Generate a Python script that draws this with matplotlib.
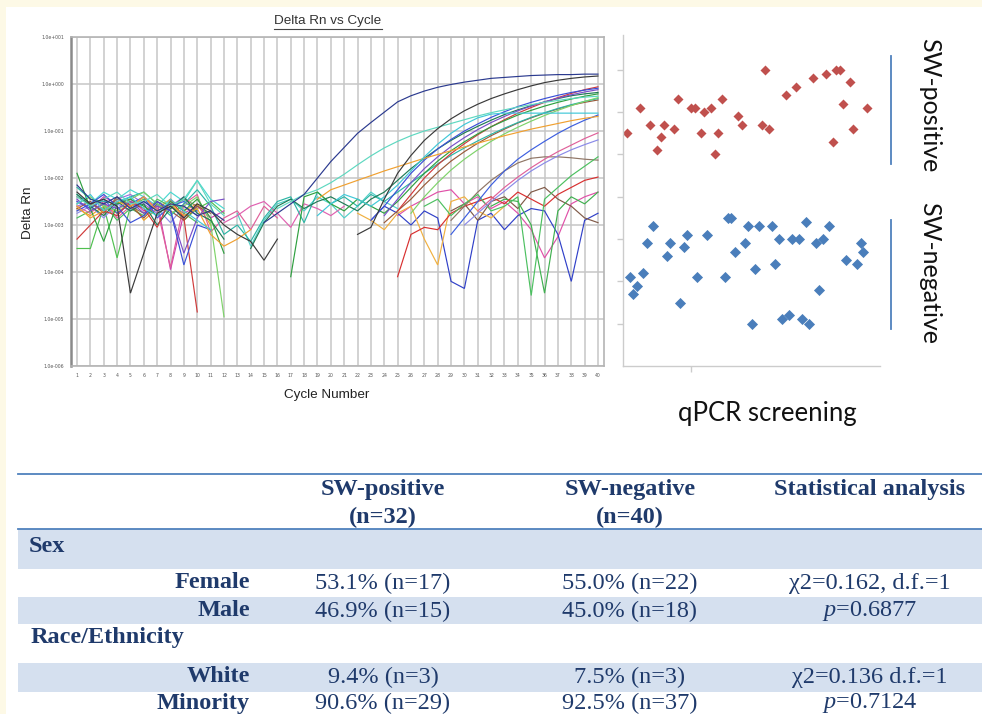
import numpy as np
import matplotlib
matplotlib.use("Agg")
import matplotlib.pyplot as plt
from matplotlib.patches import Rectangle
from matplotlib.lines import Line2D
from matplotlib.ticker import NullLocator

plt.rcParams["mathtext.fontset"] = "custom"
plt.rcParams["mathtext.rm"] = "Liberation Serif"
plt.rcParams["mathtext.it"] = "Liberation Serif:italic"

N = np.nan
cycles = list(range(1, 41))

# ---------------- qPCR curves: log10(Delta Rn) per cycle ----------------
navy = [-2.15,-2.45,-2.55,-2.40,-2.65,-2.50,-2.70,-2.55,-2.60,-2.80,
        -2.70,-2.90,N,N,-2.95,-2.75,-2.55,-2.35,-2.00,-1.65,
        -1.35,-1.05,-0.82,-0.60,-0.38,-0.25,-0.15,-0.07,-0.01,0.04,
        0.08,0.12,0.14,0.16,0.18,0.19,0.20,0.20,0.21,0.21]
gray = [-2.30,-2.55,-2.45,-2.60,-4.45,-3.60,-2.75,-2.60,-2.85,-2.55,
        -2.70,-3.00,-3.20,-3.35,-3.75,-3.30,N,N,N,N,
        N,-3.20,-3.05,-2.45,-1.90,-1.52,-1.20,-0.95,-0.74,-0.57,
        -0.43,-0.31,-0.21,-0.12,-0.04,0.03,0.08,0.12,0.15,0.17]
teal_early = [-2.40,-2.60,-2.45,-2.30,-2.55,-2.50,-2.35,-2.60,-2.45,-2.05,
              -2.55,-2.80,N,N,N,-2.65,-2.50,-2.35,-2.25,-2.10,
              -1.92,-1.72,-1.53,-1.36,-1.22,-1.10,-1.00,-0.92,-0.84,-0.76,
              -0.68,-0.61,-0.55,-0.49,-0.44,-0.39,-0.35,-0.31,-0.28,-0.26]
cyan_flat = [-2.55,-2.35,-2.70,-2.50,-2.40,-2.65,-2.80,-2.45,-2.70,-2.90,
             -3.10,N,N,N,N,N,N,N,-2.80,-2.55,
             -2.35,-2.45,-2.60,-2.40,-2.15,-1.85,-1.55,-1.28,-1.05,-0.86,
             -0.72,-0.64,-0.62,-0.62,-0.62,-0.62,-0.62,-0.62,-0.62,-0.62]
orange_amp = [-2.60,-2.85,-2.70,-2.50,-2.60,-2.40,-2.70,-2.55,-2.80,-2.65,
              -3.20,-3.45,-3.30,-3.10,N,N,N,N,-2.45,-2.25,
              -2.15,-2.05,-1.95,-1.85,-1.76,-1.67,-1.58,-1.50,-1.42,-1.34,
              -1.26,-1.18,-1.10,-1.03,-0.96,-0.90,-0.84,-0.78,-0.73,-0.69]
b_blue = [-2.70,-2.55,-2.35,-2.60,-2.95,-2.80,-2.50,-2.70,-3.85,-3.00,
          -3.10,N,N,N,N,N,N,N,N,N,
          N,N,-2.90,-2.60,-2.25,-1.90,-1.62,-1.38,-1.18,-1.00,
          -0.85,-0.71,-0.59,-0.48,-0.39,-0.31,-0.24,-0.18,-0.13,-0.09]
b_purple = [-2.45,-2.70,-2.55,-2.65,-2.50,-2.75,-2.60,-2.70,-3.60,-2.85,
            -2.50,-2.45,N,N,N,N,N,N,N,N,
            N,N,N,-2.80,-2.45,-2.10,-1.80,-1.55,-1.33,-1.14,
            -0.97,-0.82,-0.69,-0.57,-0.47,-0.38,-0.30,-0.23,-0.17,-0.12]
b_green = [-1.90,-2.65,-3.35,-2.55,-2.45,-2.60,-2.80,-2.50,-2.70,-2.45,
           -2.85,-3.60,N,N,N,N,-4.10,-2.40,-2.30,-2.55,
           -2.70,-2.45,-2.60,-2.75,-2.50,-2.20,-1.90,-1.64,-1.42,-1.23,
           -1.06,-0.91,-0.78,-0.66,-0.56,-0.47,-0.39,-0.32,-0.26,-0.21]
b_red = [-3.30,-3.00,-2.70,-2.80,-2.50,-2.65,-3.05,-2.45,-2.85,-4.85,
         N,N,N,N,N,N,N,N,N,N,
         N,N,N,N,-2.70,-2.35,-2.00,-1.72,-1.48,-1.27,
         -1.08,-0.91,-0.76,-0.62,-0.50,-0.39,-0.29,-0.20,-0.12,-0.06]
b_dkgreen = [-2.35,-2.60,-2.80,-2.50,-2.70,-2.55,-3.00,-2.65,-2.40,-2.75,
             -2.90,-3.30,N,-3.50,-2.95,-2.60,-2.45,-2.65,-2.50,-2.40,
             -2.55,-2.70,-2.45,-2.30,-2.05,-1.80,-1.58,-1.38,-1.20,-1.04,
             -0.90,-0.77,-0.65,-0.55,-0.46,-0.38,-0.31,-0.25,-0.21,-0.18]
b_lime = [-2.55,-2.40,-2.60,-2.70,-2.45,-2.30,-2.55,-2.75,-2.60,-2.40,
          -2.95,-4.95,N,N,N,N,N,N,N,N,
          N,N,N,N,N,-2.75,-2.40,-2.10,-1.83,-1.60,
          -1.40,-1.22,-1.06,-0.92,-0.79,-0.67,-0.56,-0.46,-0.37,-0.29]
b_teal = [-2.20,-2.45,-2.50,-2.55,-2.40,-2.30,-2.55,-2.80,-2.55,-2.25,
          -2.60,-3.20,-3.00,-3.35,-2.85,-2.50,-2.40,-2.95,-2.30,-2.55,
          -2.40,-2.60,-2.35,-2.50,-2.30,-2.10,-1.90,-1.70,-1.52,-1.36,
          -1.21,-1.07,-0.94,-0.82,-0.71,-0.61,-0.52,-0.44,-0.37,-0.31]
b_brown = [-2.65,-2.50,-2.75,-2.40,-2.60,-2.85,-2.55,-2.70,-2.90,-2.60,
           -2.75,N,N,N,N,N,N,N,N,N,
           N,N,N,-2.95,-2.70,-2.45,-2.15,-1.88,-1.64,-1.44,
           -1.26,-1.10,-0.96,-0.83,-0.72,-0.62,-0.53,-0.45,-0.39,-0.34]
c_blue = [-2.50,-2.65,-2.45,-2.75,-2.55,-2.40,-2.85,-2.60,-2.50,-2.70,
          N,N,N,N,N,N,N,N,N,N,
          N,N,N,N,N,N,N,N,-3.20,-2.85,
          -2.50,-2.15,-1.85,-1.60,-1.40,-1.22,-1.05,-0.90,-0.77,-0.66]
c_pink = [-2.60,-2.75,-2.50,-2.85,-2.60,-2.40,-2.65,-3.90,-2.55,-2.35,
          -3.15,-2.85,-2.70,-3.10,-2.60,-2.85,N,N,N,N,
          N,N,N,N,N,N,N,N,N,N,
          -2.70,-2.45,-2.20,-1.98,-1.78,-1.60,-1.44,-1.30,-1.16,-1.04]
c_violet = [-2.75,-2.60,-2.85,-2.55,-2.70,-2.50,-2.65,-2.95,-2.60,-2.80,
            N,N,N,N,N,N,N,N,N,N,
            N,N,N,N,N,N,N,N,N,-3.00,
            -2.75,-2.50,-2.28,-2.05,-1.85,-1.68,-1.53,-1.40,-1.29,-1.19]
c_green = [-2.85,-2.70,-2.55,-2.90,-2.65,-2.80,-2.45,-2.60,-2.75,-2.95,
           N,N,N,N,N,N,N,N,N,N,
           N,N,N,N,N,N,-2.60,-2.45,-2.80,-2.55,
           -2.35,-2.70,-2.60,-2.40,-4.50,-2.45,-2.20,-1.95,-1.75,-1.55]
c_taupe = [-2.40,-2.55,-2.70,-2.45,-2.60,-2.75,-2.50,-2.65,-2.45,-2.60,
           N,N,N,N,N,N,N,N,N,N,
           N,N,N,N,N,N,N,N,-2.90,-2.60,
           -2.30,-2.05,-1.85,-1.68,-1.58,-1.55,-1.55,-1.57,-1.60,-1.62]
c_red = [N]*24 + [-4.10,-3.20,-3.05,-3.10,-2.75,-2.60,-2.50,-2.40,
                  -2.55,-2.30,-2.45,-2.60,-2.35,-2.20,-2.05,-1.98]
l_magenta = [N]*24 + [-2.80,-2.60,-2.45,-2.30,-2.25,-2.55,-2.40,-2.65,
                      -2.50,-2.75,-3.10,-3.70,-3.25,-2.55,-2.40,-2.30]
l_blue = [N]*22 + [-2.90,-2.60,-2.75,-3.00,-2.70,-2.85,-4.20,-4.35,-2.90,
                   -2.75,-3.10,-2.80,-2.65,-2.70,-3.20,-4.20,-2.90,-2.75]
l_orange = [N]*21 + [-2.75,-2.90,-3.10,-2.75,-2.60,-3.30,-3.85,-2.50,-2.40,
                     -2.70,-2.85,-2.60]
l_brown = [N]*28 + [-2.70,-2.55,-2.90,-2.50,-2.40,-2.65,-2.30,-2.20,-2.45,
                    -2.60,-2.85,-2.95]
l_green = [N]*31 + [-2.60,-2.45,-2.50,-3.00,-4.45,-2.70,-2.40,-2.55,-2.30]
m_cyan = [N]*12 + [-2.75,-3.45,-2.90,-2.55,-2.45,-2.70,-2.40,-2.55,-2.85,
                   -2.60,-2.30,-2.50,-2.65]
m_magenta = [N]*11 + [-2.95,-2.80,-2.60,-2.50,-2.75,-3.05,-2.55,-2.65,-2.80,-2.60]
e_cyan = [-2.35,-2.55,-2.30,-2.45,-2.25,-2.40,-2.60,-2.30,-2.50,-2.05,-2.45,-2.65]
e_orange = [-2.65,-2.80,-2.60,-2.75,-2.50,-2.90,-2.65,-2.45,-2.70,-2.55,-3.00]
e_green = [-3.50,-3.50,-2.60,-3.70,-2.60,-2.45,-2.70,-2.55,-2.90,-2.65,-2.50,-2.75]
e_magenta = [-2.50,-2.65,-2.40,-2.55,-2.45,-2.70,-2.50,-3.95,-2.75,-2.60,-2.85,-2.70]
e_violet = [-2.60,-2.50,-2.70,-2.45,-2.35,-2.55,-2.75,-2.60,-2.40,-2.75]

curves = [
    (e_cyan, "#4ad8d0"), (e_orange, "#f0a020"), (e_green, "#50c050"),
    (e_magenta, "#d040b0"), (e_violet, "#9a70e0"),
    (m_cyan, "#50d0c8"), (m_magenta, "#e060b0"),
    (l_magenta, "#e050a8"), (l_blue, "#3040c8"), (l_orange, "#f0b040"),
    (l_brown, "#805a48"), (l_green, "#40b050"),
    (c_red, "#d83030"), (c_taupe, "#8f7565"), (c_green, "#4cc060"),
    (c_violet, "#8a8ae8"), (c_pink, "#e0609a"), (c_blue, "#3d5fe0"),
    (b_brown, "#9a5a3a"), (b_teal, "#2cb5a5"), (b_lime, "#7ed36a"),
    (b_dkgreen, "#1f7a55"), (b_red, "#d03a3a"), (b_green, "#2fa040"),
    (b_purple, "#7a4fc8"), (b_blue, "#3a50d8"),
    (orange_amp, "#f0a030"), (cyan_flat, "#40c8d8"), (teal_early, "#5ed8c0"),
    (gray, "#3a3a3a"), (navy, "#2b3a8f"),
]

decades = list(range(-6, 2))

# ---------------- scatter (qPCR screening) ----------------
pos_x = [1.4, 6.6, 10.5, 13.3, 14.7, 16.0, 19.8, 21.3, 26.3, 27.9, 30.4, 31.6,
         34.4, 35.7, 37.0, 38.4, 44.9, 46.3, 54.1, 55.4, 56.8, 63.3, 67.3, 73.8,
         79.1, 81.7, 83.0, 84.4, 85.7, 88.3, 89.6, 94.8]
pos_y = [5.50, 6.10, 5.70, 5.10, 5.40, 5.70, 5.60, 6.30, 6.10, 6.10, 5.50, 6.00,
         6.10, 5.00, 5.50, 6.30, 5.90, 5.70, 5.70, 7.00, 5.60, 6.40, 6.60, 6.80,
         6.90, 5.30, 7.00, 7.00, 6.20, 6.70, 5.60, 6.10]
neg_x = [2.7, 3.8, 5.6, 7.7, 9.2, 11.8, 17.0, 18.3, 22.2, 23.7, 25.0, 28.9, 32.8,
         39.6, 40.9, 42.1, 43.5, 47.4, 48.6, 50.2, 51.2, 52.8, 58.0, 59.3, 60.6,
         61.9, 64.5, 65.8, 68.6, 69.6, 71.2, 72.5, 75.1, 76.4, 77.7, 80.3, 86.8,
         90.9, 92.5, 93.5]
neg_y = [2.10, 1.70, 1.90, 2.20, 2.90, 3.30, 2.60, 2.90, 1.50, 2.80, 3.10, 2.10,
         3.10, 2.10, 3.50, 3.50, 2.70, 2.90, 3.30, 1.00, 2.30, 3.30, 3.30, 2.40,
         3.00, 1.10, 1.20, 3.00, 3.00, 1.10, 3.40, 1.00, 2.90, 1.80, 3.00, 3.30,
         2.50, 2.40, 2.90, 2.70]

# ---------------- table ----------------
col_headers = [("SW-positive", "(n=32)"), ("SW-negative", "(n=40)"),
               ("Statistical analysis", "")]
sections = ["Sex", "Race/Ethnicity"]
row_labels = ["Female", "Male", "White", "Minority"]
pos_vals = ["53.1% (n=17)", "46.9% (n=15)", "9.4% (n=3)", "90.6% (n=29)"]
neg_vals = ["55.0% (n=22)", "45.0% (n=18)", "7.5% (n=3)", "92.5% (n=37)"]
stat_vals = ["\u03c72=0.162, d.f.=1", "$p$=0.6877", "\u03c72=0.136 d.f.=1", "$p$=0.7124"]

# ================= drawing =================
W, H = 982, 714
fig = plt.figure(figsize=(9.82, 7.14), dpi=100, facecolor="#fdf9e6")


def fx(px):
    return px / W


def fy(py):
    return 1 - py / H


bg = fig.add_axes([0, 0, 1, 1], zorder=0)
bg.set_xlim(0, W)
bg.set_ylim(H, 0)
bg.axis("off")
bg.add_patch(Rectangle((6, 7), W - 6, H - 7, facecolor="white", edgecolor="none"))

# qPCR amplification plot
ax = fig.add_axes([fx(71), fy(366), fx(604) - fx(71), fy(37) - fy(366)], zorder=2)
ax.set_yscale("log")
for vals, col in curves:
    v = list(vals) + [N] * (40 - len(vals))
    ax.plot(cycles, 10.0 ** np.array(v, dtype=float), color=col, lw=0.85,
            solid_joinstyle="miter")
ax.set_xlim(0.55, 40.45)
ax.set_ylim(1e-6, 1e1)
ax.set_xticks(cycles)
ax.set_xticklabels([str(c) for c in cycles], fontsize=3.3, color="#555555")
ax.set_yticks([10.0 ** d for d in decades])
ax.set_yticklabels([f"1.0e{d:+04d}" for d in decades], fontsize=3.3, color="#555555")
ax.yaxis.set_minor_locator(NullLocator())
ax.tick_params(length=0, pad=5)
ax.grid(True, color="#c6c6c6", lw=1.1)
ax.set_axisbelow(True)
for s in ["top", "right", "bottom"]:
    ax.spines[s].set_color("#b4b4b4")
    ax.spines[s].set_linewidth(1.2)
ax.spines["left"].set_color("#8a8a8a")
ax.spines["left"].set_linewidth(1.8)

fig.text(fx(328), fy(21), "Delta Rn vs Cycle", ha="center", va="center",
         fontsize=9.7, family="Liberation Sans", color="#333333")
fig.add_artist(Line2D([fx(274), fx(382)], [fy(28.5), fy(28.5)], color="#444444",
                      lw=0.8, transform=fig.transFigure))
fig.text(fx(28), fy(213), "Delta Rn", rotation=90, ha="center", va="center",
         fontsize=9.7, family="Liberation Sans", color="#222222")
fig.text(fx(327), fy(395), "Cycle Number", ha="center", va="center",
         fontsize=9.7, family="Liberation Sans", color="#222222")

# scatter
sx = fig.add_axes([fx(623), fy(366), fx(880) - fx(623), fy(35) - fy(366)], zorder=2)
sx.set_facecolor("none")
sx.scatter(pos_x, pos_y, marker="D", s=26, color="#c0504d", linewidths=0)
sx.scatter(neg_x, neg_y, marker="D", s=32, color="#4a7ebb", linewidths=0)
sx.set_xlim(0, 100)
sx.set_ylim(0, 7.82)
for s in ["top", "right"]:
    sx.spines[s].set_visible(False)
for s in ["left", "bottom"]:
    sx.spines[s].set_color("#cccccc")
    sx.spines[s].set_linewidth(1.0)
sx.set_yticks(range(1, 8))
sx.set_xticks([26.5])
sx.set_xticklabels([])
sx.set_yticklabels([])
sx.tick_params(length=4, color="#cccccc", direction="out", width=1.0)

bg.plot([891, 891], [56, 164], color="#4f81bd", lw=1.3)
bg.plot([891, 891], [220, 329], color="#4f81bd", lw=1.3)
bg.text(930, 105, "SW-positive", rotation=-90, ha="center", va="center",
        fontsize=18, family="Lato", color="#111111")
bg.text(930, 273, "SW-negative", rotation=-90, ha="center", va="center",
        fontsize=18, family="Lato", color="#111111")
bg.text(767, 414, "qPCR screening", ha="center", va="center",
        fontsize=18.5, family="Lato", color="#111111")

# table
tcol = "#1f3a6b"
fill = "#d5e0ef"
line_c = "#4f81bd"
for y0, y1 in [(529, 569), (597, 624), (663, 692)]:
    bg.add_patch(Rectangle((18, y0), W - 18, y1 - y0, facecolor=fill, edgecolor="none"))
for yl in [474, 529]:
    bg.plot([18, W], [yl, yl], color=line_c, lw=1.3)

col_x = [383, 630, 870]
tf = dict(family="Liberation Serif", fontsize=17.5, color=tcol, va="center")
for (l1, l2), cx in zip(col_headers, col_x):
    bg.text(cx, 490, l1, ha="center", weight="bold", **tf)
    if l2:
        bg.text(cx, 517, l2, ha="center", weight="bold", **tf)

bg.text(29, 546, sections[0], ha="left", weight="bold", **tf)
bg.text(31, 638, sections[1], ha="left", weight="bold", **tf)
row_y = [583, 611, 677, 703]
for lab, pv, nv, sv, ry in zip(row_labels, pos_vals, neg_vals, stat_vals, row_y):
    bg.text(250, ry, lab, ha="right", weight="bold", **tf)
    bg.text(col_x[0], ry, pv, ha="center", **tf)
    bg.text(col_x[1], ry, nv, ha="center", **tf)
    bg.text(col_x[2], ry, sv, ha="center", **tf)

fig.savefig("out.png", dpi=100, facecolor=fig.get_facecolor())
